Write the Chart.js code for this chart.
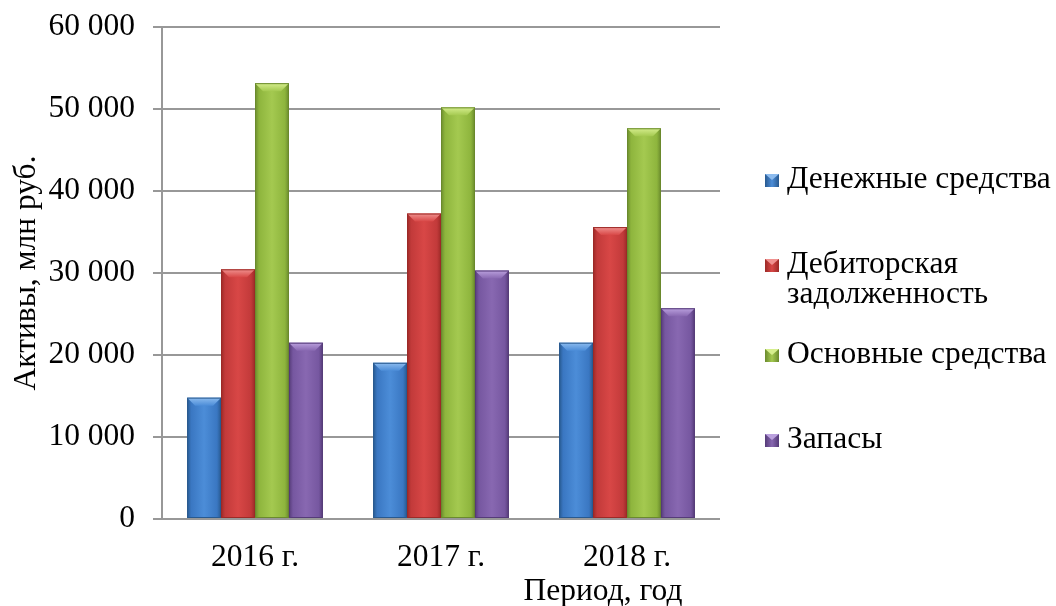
<!DOCTYPE html>
<html>
<head>
<meta charset="utf-8">
<script src="https://cdn.jsdelivr.net/npm/chart.js@4.4.1/dist/chart.umd.min.js"></script>
<style>
  body { margin: 0; background: #fff; }
  #wrap { width: 1056px; height: 606px; position: relative; }
</style>
</head>
<body>
<div id="wrap"><canvas id="myChart"></canvas></div>
<script>
// data
const categories = ["2016 г.", "2017 г.", "2018 г."];
const seriesNames = ["Денежные средства", "Дебиторская задолженность", "Основные средства", "Запасы"];
const cash = [14800, 19050, 21500];
const receivables = [30450, 37250, 35600];
const fixedAssets = [53150, 50200, 47650];
const inventory = [21500, 30300, 25700];
const yMin = 0, yMax = 60000, yStep = 10000;
const yTitle = "Активы, млн руб.";
const xTitle = "Период, год";

const FONT = "'Liberation Serif', 'Times New Roman', serif";
const FSIZE = 31.5;
const catPct = 0.73;
const palettes = [
  {dark: "#28598f", mid: "#3a77c2", light: "#4c8dd8", top: "#8dbcef"},
  {dark: "#9c2a27", mid: "#c23a3a", light: "#d84746", top: "#f09290"},
  {dark: "#6a8a2d", mid: "#8eb53d", light: "#a4c950", top: "#d6ee8e"},
  {dark: "#553b78", mid: "#7657a0", light: "#8868b1", top: "#bba1de"}
];

function fmt(v) {
  return String(v).replace(/\B(?=(\d{3})+(?!\d))/g, " ");
}

function barFill(c) {
  const pal = palettes[c.datasetIndex];
  const xs = c.chart.scales.x;
  if (c.type !== "data" || !xs || !xs.width) return pal.mid;
  const groupW = xs.width / categories.length * catPct;
  const barW = groupW / seriesNames.length;
  const l = xs.getPixelForValue(c.dataIndex) - groupW / 2 + c.datasetIndex * barW;
  const g = c.chart.ctx.createLinearGradient(l, 0, l + barW, 0);
  g.addColorStop(0, pal.dark);
  g.addColorStop(0.12, pal.mid);
  g.addColorStop(0.5, pal.light);
  g.addColorStop(0.88, pal.mid);
  g.addColorStop(1, pal.dark);
  return g;
}

// lighter bevel on top of each bar
const bevel = {
  id: "bevel",
  afterDatasetsDraw(chart) {
    const ctx = chart.ctx;
    chart.data.datasets.forEach((ds, i) => {
      const pal = palettes[i];
      chart.getDatasetMeta(i).data.forEach(bar => {
        const l = bar.x - bar.width / 2, r = bar.x + bar.width / 2, t = bar.y;
        const d = 8;
        ctx.save();
        ctx.beginPath();
        ctx.moveTo(l, t);
        ctx.lineTo(r, t);
        ctx.lineTo(r - d, t + d);
        ctx.lineTo(l + d, t + d);
        ctx.closePath();
        const g = ctx.createLinearGradient(0, t, 0, t + d);
        g.addColorStop(0, pal.top);
        g.addColorStop(1, pal.light);
        ctx.fillStyle = g;
        ctx.fill();
        ctx.strokeStyle = pal.dark;
        ctx.lineWidth = 1;
        ctx.strokeRect(l + 0.5, t + 0.5, bar.width - 1, bar.base - t - 1);
        ctx.restore();
      });
    });
  }
};

// legend on the right side and the x axis caption
const sideLegend = {
  id: "sideLegend",
  afterDraw(chart) {
    const ctx = chart.ctx;
    const area = chart.chartArea;
    ctx.save();
    ctx.font = FSIZE + "px " + FONT;
    ctx.fillStyle = "#000";
    ctx.textBaseline = "middle";
    ctx.textAlign = "left";
    const boxX = area.right + 45;
    const textX = area.right + 67;
    const maxW = 285;
    let y = 180;
    chart.data.datasets.forEach((ds, i) => {
      const pal = palettes[i];
      // wrap long names
      const words = ds.label.split(" ");
      const lines = [];
      let cur = "";
      words.forEach(w => {
        const test = cur ? cur + " " + w : w;
        if (cur && ctx.measureText(test).width > maxW) { lines.push(cur); cur = w; }
        else cur = test;
      });
      lines.push(cur);
      // key
      const g = ctx.createLinearGradient(boxX, 0, boxX + 14, 0);
      g.addColorStop(0, pal.dark);
      g.addColorStop(0.5, pal.light);
      g.addColorStop(1, pal.dark);
      ctx.fillStyle = g;
      ctx.fillRect(boxX, y - 6, 14, 13);
      ctx.fillStyle = pal.top;
      ctx.beginPath();
      ctx.moveTo(boxX, y - 6);
      ctx.lineTo(boxX + 14, y - 6);
      ctx.lineTo(boxX + 7, y);
      ctx.closePath();
      ctx.fill();
      ctx.fillStyle = "#000";
      lines.forEach((ln, k) => ctx.fillText(ln, textX, y + k * 30));
      y += 85 + (lines.length - 1) * 5;
    });
    ctx.textAlign = "center";
    ctx.fillText(xTitle, area.right - 117, 592);
    ctx.restore();
  }
};

const gridColor = "#989898";

new Chart("myChart", {
  type: "bar",
  data: {
    labels: categories,
    datasets: [cash, receivables, fixedAssets, inventory].map((vals, i) => ({
      label: seriesNames[i],
      data: vals,
      backgroundColor: barFill,
      borderWidth: 0,
      categoryPercentage: catPct,
      barPercentage: 1
    }))
  },
  options: {
    responsive: true,
    maintainAspectRatio: false,
    animation: false,
    layout: {padding: {top: 27, right: 336, left: 0, bottom: 0}},
    plugins: {
      legend: {display: false},
      tooltip: {enabled: false}
    },
    scales: {
      x: {
        grid: {display: false, drawTicks: false},
        border: {display: false},
        ticks: {font: {family: FONT, size: FSIZE}, color: "#000", padding: 20, maxRotation: 0},
        afterFit(s) { s.height = 87; s.paddingLeft = 0; s.paddingRight = 0; }
      },
      y: {
        min: yMin,
        max: yMax,
        grid: {color: gridColor, lineWidth: 2, tickLength: 9, drawTicks: true},
        border: {display: true, color: gridColor, width: 2},
        ticks: {
          stepSize: yStep,
          font: {family: FONT, size: FSIZE},
          color: "#000",
          padding: 18,
          callback: v => fmt(v)
        },
        title: {
          display: true,
          text: yTitle,
          font: {family: FONT, size: FSIZE},
          color: "#000",
          padding: {top: 8, bottom: 0}
        },
        afterFit(s) { s.width = 162; s.paddingTop = 0; s.paddingBottom = 0; }
      }
    }
  },
  plugins: [bevel, sideLegend]
});
</script>
</body>
</html>
